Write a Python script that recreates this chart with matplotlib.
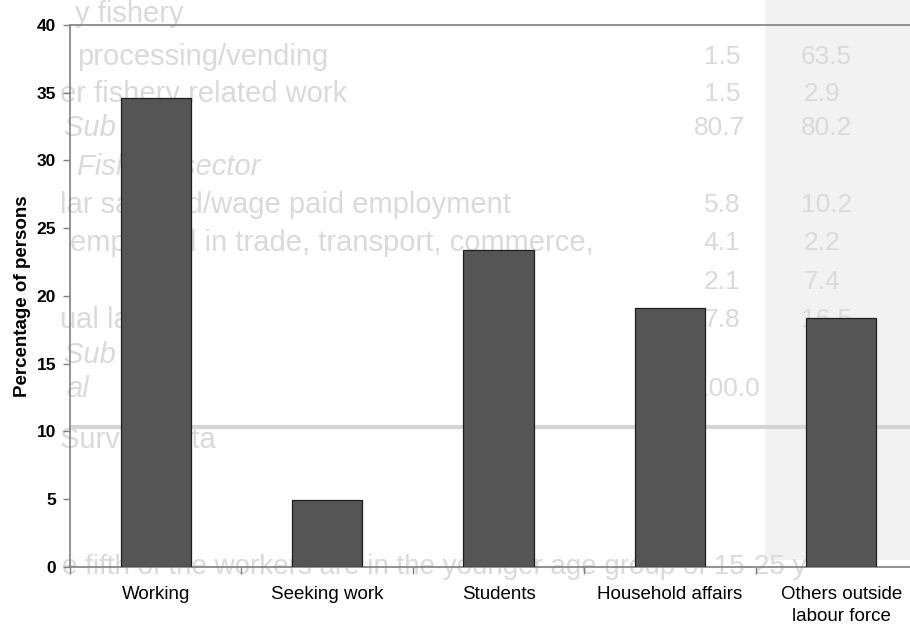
import matplotlib

matplotlib.use("Agg")
import matplotlib.pyplot as plt
import numpy as np
from matplotlib.patches import Rectangle


CATEGORIES = [
    "Working",
    "Seeking work",
    "Students",
    "Household affairs",
    "Others outside\nlabour force",
]
PERCENT_PERSONS = [34.6, 4.9, 23.4, 19.1, 18.4]
Y_TICKS = [0, 5, 10, 15, 20, 25, 30, 35, 40]

W, H = 910, 625
BAR_FACE = "#555555"
AXIS_GREY = "#808080"
SHOW_THROUGH = "#dadada"

plt.rcParams["font.family"] = ["Liberation Sans", "DejaVu Sans"]

fig = plt.figure(figsize=(W / 100, H / 100), dpi=100)
fig.patch.set_facecolor("white")

# faint print from the back of the scanned page
bg = fig.add_axes([0, 0, 1, 1], zorder=-1)
bg.set_xlim(0, W)
bg.set_ylim(H, 0)
bg.axis("off")
bg.add_patch(Rectangle((765, 0), 145, 560, color="#f2f2f2", lw=0))
bg.plot([70, 910], [427, 427], color="#d4d4d4", lw=3, solid_capstyle="butt")

ghost = dict(color=SHOW_THROUGH, fontsize=21, va="center", ha="left")
bg.text(75, 14, "y fishery", **ghost)
bg.text(77, 57, "processing/vending", **ghost)
bg.text(60, 94, "er fishery related work", **ghost)
bg.text(64, 128, "Sub total", style="italic", **ghost)
bg.text(77, 167, "Fishery sector", style="italic", **ghost)
bg.text(60, 205, "lar salaried/wage paid employment", **ghost)
bg.text(70, 243, "employed in trade, transport, commerce,", **ghost)
bg.text(60, 320, "ual labour", **ghost)
bg.text(64, 355, "Sub total", style="italic", **ghost)
bg.text(66, 389, "al", style="italic", **ghost)
bg.text(60, 440, "Survey data", **ghost)
bg.text(62, 567, "e fifth of the workers are in the younger age group of 15-25 y",
        **{**ghost, "fontsize": 20})

num = dict(color=SHOW_THROUGH, fontsize=19, va="center", ha="right")
bg.text(740, 57, "1.5", **num)
bg.text(852, 57, "63.5", **num)
bg.text(740, 94, "1.5", **num)
bg.text(840, 94, "2.9", **num)
bg.text(745, 128, "80.7", **num)
bg.text(852, 128, "80.2", **num)
bg.text(740, 205, "5.8", **num)
bg.text(852, 205, "10.2", **num)
bg.text(740, 243, "4.1", **num)
bg.text(840, 243, "2.2", **num)
bg.text(740, 282, "2.1", **num)
bg.text(840, 282, "7.4", **num)
bg.text(740, 320, "7.8", **num)
bg.text(852, 320, "16.5", **num)
bg.text(760, 389, "100.0", **num)

# the chart itself; plot area runs off the right edge of the page
ax = fig.add_axes([70 / W, 1 - 566.7 / H, 857 / W, 541.7 / H])
ax.patch.set_visible(False)

x = np.arange(len(CATEGORIES))
ax.bar(x, PERCENT_PERSONS, width=0.41, color=BAR_FACE,
       edgecolor="#1e1e1e", linewidth=0.9, zorder=3)

ax.set_xlim(-0.5, len(CATEGORIES) - 0.5)
ax.set_ylim(0, 40)

ax.set_yticks(Y_TICKS)
ax.set_yticklabels([str(t) for t in Y_TICKS], fontweight="bold", fontsize=12.5)
ax.tick_params(axis="y", direction="out", length=5, width=1,
               color=AXIS_GREY, pad=5)

ax.set_xticks(x)
ax.set_xticklabels(CATEGORIES, fontsize=13.5, linespacing=1.35)
ax.tick_params(axis="x", length=0, pad=14)
ax.set_xticks(np.arange(-0.5, len(CATEGORIES)), minor=True)
ax.tick_params(axis="x", which="minor", direction="out", length=5,
               width=1, color=AXIS_GREY)

for side in ("left", "bottom", "top"):
    ax.spines[side].set_color(AXIS_GREY)
    ax.spines[side].set_linewidth(1.2)
ax.spines["right"].set_visible(False)

ax.set_ylabel("Percentage of persons", fontweight="bold", fontsize=13.5,
              labelpad=4)

fig.savefig("out.png", dpi=100)
